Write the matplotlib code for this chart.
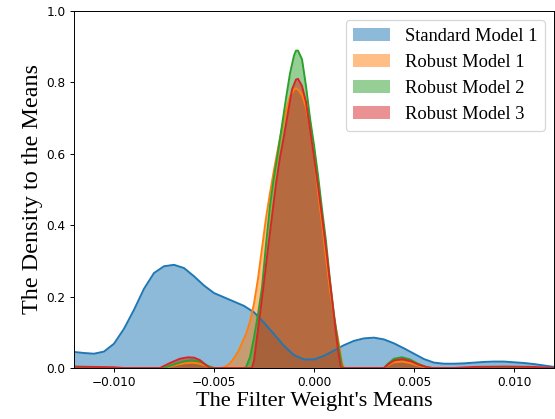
import matplotlib
matplotlib.use("Agg")
import matplotlib.pyplot as plt

# ---- data (x = filter-weight mean, y = density) ----
std1_x = [-0.0120, -0.0115, -0.0110, -0.0105, -0.0100, -0.0095, -0.0090, -0.0085,
          -0.0080, -0.0075, -0.0070, -0.0065, -0.0060, -0.0055, -0.0050, -0.0045,
          -0.0040, -0.0035, -0.0030, -0.0025, -0.0020, -0.0015, -0.0010, -0.0005,
          0.0000, 0.0005, 0.0010, 0.0015, 0.0020, 0.0025, 0.0030, 0.0035, 0.0040,
          0.0045, 0.0050, 0.0055, 0.0060, 0.0065, 0.0070, 0.0075, 0.0080, 0.0085,
          0.0090, 0.0095, 0.0100, 0.0105, 0.0110, 0.0115, 0.0120]
std1_y = [0.045, 0.042, 0.040, 0.046, 0.068, 0.110, 0.163, 0.222,
          0.266, 0.285, 0.289, 0.280, 0.257, 0.231, 0.210, 0.198,
          0.186, 0.174, 0.156, 0.127, 0.095, 0.062, 0.036, 0.024,
          0.024, 0.034, 0.049, 0.064, 0.076, 0.083, 0.085, 0.080, 0.069,
          0.055, 0.040, 0.025, 0.015, 0.012, 0.012, 0.013, 0.015, 0.017,
          0.018, 0.018, 0.016, 0.014, 0.011, 0.007, 0.003]

rob1_x = [-0.0120, -0.0100, -0.0075, -0.0070, -0.0065, -0.0061, -0.0057, -0.0053,
          -0.0050, -0.0046, -0.0044, -0.0042, -0.0040, -0.0038, -0.0036, -0.0034,
          -0.0032, -0.0030, -0.0028, -0.0026, -0.0024, -0.0022, -0.0020, -0.0018,
          -0.0016, -0.0014, -0.0012, -0.0010, -0.0009, -0.0008, -0.0006, -0.0004,
          -0.0002, 0.0000, 0.0002, 0.0004, 0.0006, 0.0008, 0.0010, 0.0012, 0.0014,
          0.0015, 0.0035, 0.0037, 0.0040, 0.0044, 0.0048, 0.0052, 0.0056, 0.0059,
          0.0120]
rob1_y = [0.002, 0.000, 0.000, 0.007, 0.013, 0.015, 0.012, 0.004,
          0.000, 0.000, 0.005, 0.013, 0.028, 0.045, 0.070, 0.095,
          0.130, 0.180, 0.250, 0.335, 0.420, 0.490, 0.555, 0.615,
          0.672, 0.720, 0.760, 0.780, 0.783, 0.780, 0.765, 0.730,
          0.675, 0.590, 0.495, 0.405, 0.310, 0.218, 0.140, 0.082, 0.015,
          0.000, 0.000, 0.008, 0.016, 0.018, 0.014, 0.007, 0.002, 0.000,
          0.000]

rob2_x = [-0.0120, -0.0100, -0.0075, -0.0070, -0.0065, -0.0061, -0.0057, -0.0053,
          -0.0050, -0.0035, -0.0034, -0.0032, -0.0030, -0.0028, -0.0026, -0.0024,
          -0.0022, -0.0020, -0.0018, -0.0016, -0.0014, -0.0012, -0.0010, -0.0009,
          -0.0008, -0.0006, -0.0004, -0.0002, 0.0000, 0.0002, 0.0004, 0.0006,
          0.0008, 0.0010, 0.0012, 0.0014, 0.0015, 0.0035, 0.0037, 0.0040, 0.0044,
          0.0048, 0.0052, 0.0056, 0.0059, 0.0120]
rob2_y = [0.002, 0.000, 0.000, 0.010, 0.019, 0.022, 0.018, 0.006,
          0.000, 0.000, 0.002, 0.030, 0.085, 0.150, 0.225, 0.345,
          0.455, 0.535, 0.605, 0.680, 0.755, 0.825, 0.875, 0.889,
          0.889, 0.865, 0.790, 0.700, 0.625, 0.540, 0.445, 0.355,
          0.245, 0.150, 0.070, 0.005, 0.000, 0.000, 0.012, 0.026, 0.030,
          0.024, 0.012, 0.003, 0.000, 0.000]

rob3_x = [-0.0120, -0.0110, -0.0100, -0.0095, -0.0077, -0.0072, -0.0067, -0.0063,
          -0.0060, -0.0057, -0.0054, -0.0052, -0.0031, -0.0030, -0.0029, -0.0027,
          -0.0025, -0.0023, -0.0021, -0.0019, -0.0017, -0.0015, -0.0013, -0.0011,
          -0.0009, -0.0008, -0.0006, -0.0004, -0.0002, 0.0000, 0.0002, 0.0004,
          0.0006, 0.0008, 0.0010, 0.0012, 0.0013, 0.00135, 0.0035, 0.0037, 0.0040,
          0.0044, 0.0048, 0.0052, 0.0056, 0.0059, 0.0070, 0.0080, 0.0095, 0.0110,
          0.0120]
rob3_y = [0.004, 0.003, 0.002, 0.000, 0.000, 0.014, 0.026, 0.030,
          0.029, 0.022, 0.008, 0.000, 0.000, 0.020, 0.065, 0.150,
          0.240, 0.335, 0.425, 0.515, 0.590, 0.650, 0.715, 0.780,
          0.808, 0.810, 0.790, 0.745, 0.670, 0.590, 0.510, 0.425,
          0.335, 0.240, 0.145, 0.050, 0.015, 0.000, 0.000, 0.010, 0.021,
          0.025, 0.020, 0.010, 0.003, 0.000, 0.000, 0.003, 0.004, 0.003,
          0.000]

series_names = ["Standard Model 1", "Robust Model 1", "Robust Model 2", "Robust Model 3"]
series_x = [std1_x, rob1_x, rob2_x, rob3_x]
series_y = [std1_y, rob1_y, rob2_y, rob3_y]
series_colors = ["#1f77b4", "#ff7f0e", "#2ca02c", "#d62728"]

x_ticks = [-0.010, -0.005, 0.000, 0.005, 0.010]
x_limits = (-0.012, 0.012)
y_limits = (0.0, 1.0)

# ---- figure ----
DPI = 87
fig = plt.figure(figsize=(555 / DPI, 419 / DPI), dpi=DPI)
ax = fig.add_axes([74 / 555, (419 - 368) / 419, 480 / 555, 357 / 419])

serif = ["Liberation Serif", "DejaVu Serif"]

for name, xs, ys, col in zip(series_names, series_x, series_y, series_colors):
    ax.fill_between(xs, ys, 0, color=col, alpha=0.5, linewidth=0, label=name)
    ax.plot(xs, ys, color=col, linewidth=1.6)

ax.set_xlim(*x_limits)
ax.set_ylim(*y_limits)
ax.set_xticks(x_ticks)
ax.tick_params(labelsize=10)

ax.set_xlabel("The Filter Weight's Means", fontsize=18.5, family=serif, labelpad=2)
ax.set_ylabel("The Density to the Means", fontsize=20, family=serif, labelpad=3)

ax.legend(loc="upper right", prop={"family": serif, "size": 15.3})

fig.savefig("out.png", dpi=DPI)
